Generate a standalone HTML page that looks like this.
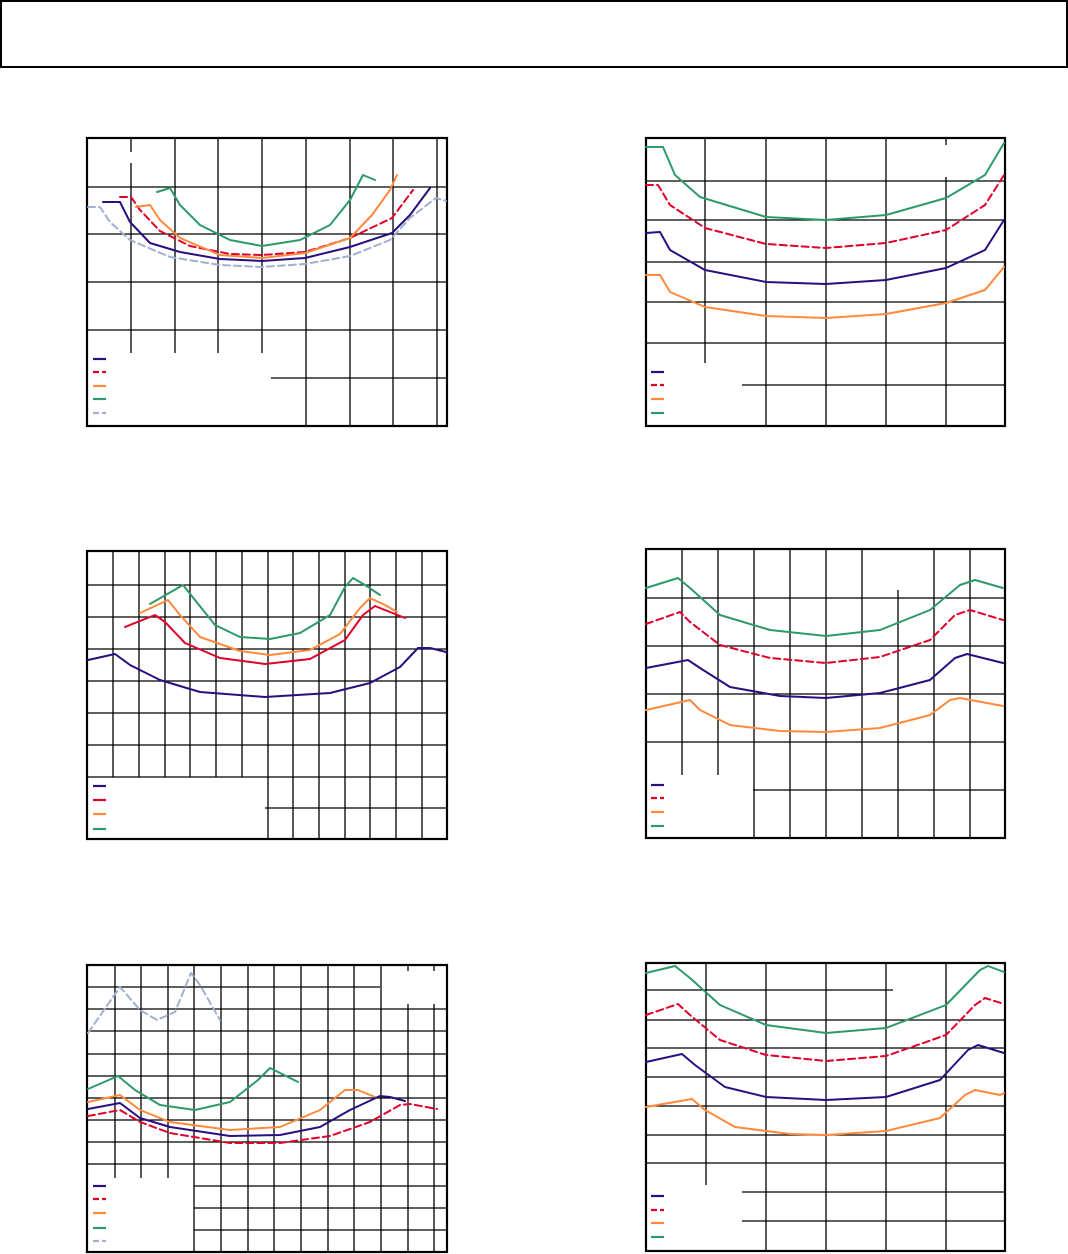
<!DOCTYPE html>
<html><head><meta charset="utf-8"><style>
html,body{margin:0;padding:0;background:#fff;}
svg{display:block;}
</style></head><body>
<svg width="1068" height="1254" viewBox="0 0 1068 1254" xmlns="http://www.w3.org/2000/svg">
<rect x="1" y="1" width="1066" height="66" fill="none" stroke="#000" stroke-width="2"/>
<g stroke="#000" stroke-width="1.3" fill="none">
<!-- chart1 -->
<line x1="87" y1="187" x2="447" y2="187"/><line x1="87" y1="234" x2="447" y2="234"/><line x1="87" y1="282" x2="447" y2="282"/><line x1="87" y1="330" x2="447" y2="330"/><line x1="271" y1="378" x2="447" y2="378"/>
<line x1="131" y1="163" x2="131" y2="353"/><line x1="131" y1="138" x2="131" y2="152"/><line x1="175" y1="138" x2="175" y2="353"/><line x1="218" y1="138" x2="218" y2="353"/><line x1="262" y1="138" x2="262" y2="353"/>
<line x1="306" y1="138" x2="306" y2="426"/><line x1="350" y1="138" x2="350" y2="426"/><line x1="393" y1="138" x2="393" y2="426"/><line x1="437" y1="138" x2="437" y2="426"/>
<!-- chart2 -->
<line x1="646" y1="181" x2="1005" y2="181"/><line x1="646" y1="220" x2="1005" y2="220"/><line x1="646" y1="262" x2="1005" y2="262"/><line x1="646" y1="302" x2="1005" y2="302"/><line x1="646" y1="343" x2="1005" y2="343"/><line x1="742" y1="385" x2="1005" y2="385"/>
<line x1="705" y1="138" x2="705" y2="363"/><line x1="766" y1="138" x2="766" y2="426"/><line x1="826" y1="138" x2="826" y2="426"/><line x1="886" y1="138" x2="886" y2="426"/><line x1="946" y1="177" x2="946" y2="426"/><line x1="946" y1="138" x2="946" y2="145"/>
<!-- chart3 -->
<line x1="87" y1="585" x2="447" y2="585"/><line x1="87" y1="617" x2="447" y2="617"/><line x1="87" y1="649" x2="447" y2="649"/><line x1="87" y1="681" x2="447" y2="681"/><line x1="87" y1="713" x2="447" y2="713"/><line x1="87" y1="745" x2="447" y2="745"/><line x1="87" y1="777" x2="447" y2="777"/><line x1="265" y1="808" x2="447" y2="808"/>
<line x1="113" y1="551" x2="113" y2="777"/><line x1="139" y1="551" x2="139" y2="777"/><line x1="165" y1="551" x2="165" y2="777"/><line x1="190" y1="551" x2="190" y2="777"/><line x1="216" y1="551" x2="216" y2="777"/><line x1="242" y1="551" x2="242" y2="777"/>
<line x1="268" y1="551" x2="268" y2="839"/><line x1="293" y1="551" x2="293" y2="839"/><line x1="319" y1="551" x2="319" y2="839"/><line x1="345" y1="551" x2="345" y2="839"/><line x1="370" y1="551" x2="370" y2="839"/><line x1="396" y1="551" x2="396" y2="839"/><line x1="422" y1="551" x2="422" y2="839"/>
<!-- chart4 -->
<line x1="646" y1="598" x2="1005" y2="598"/><line x1="646" y1="646" x2="1005" y2="646"/><line x1="646" y1="694" x2="1005" y2="694"/><line x1="646" y1="742" x2="1005" y2="742"/><line x1="753" y1="790" x2="1005" y2="790"/>
<line x1="682" y1="549" x2="682" y2="775"/><line x1="718" y1="549" x2="718" y2="775"/><line x1="754" y1="549" x2="754" y2="838"/><line x1="790" y1="549" x2="790" y2="838"/><line x1="826" y1="549" x2="826" y2="838"/><line x1="862" y1="549" x2="862" y2="838"/><line x1="898" y1="590" x2="898" y2="838"/><line x1="934" y1="549" x2="934" y2="838"/><line x1="970" y1="549" x2="970" y2="838"/>
<!-- chart5 -->
<line x1="87" y1="987" x2="380" y2="987"/><line x1="87" y1="1009" x2="447" y2="1009"/><line x1="87" y1="1031" x2="447" y2="1031"/><line x1="87" y1="1054" x2="447" y2="1054"/><line x1="87" y1="1076" x2="447" y2="1076"/><line x1="87" y1="1098" x2="447" y2="1098"/><line x1="87" y1="1120" x2="447" y2="1120"/><line x1="87" y1="1142" x2="447" y2="1142"/><line x1="87" y1="1164" x2="447" y2="1164"/><line x1="194" y1="1186" x2="447" y2="1186"/><line x1="194" y1="1208" x2="447" y2="1208"/><line x1="194" y1="1230" x2="447" y2="1230"/>
<line x1="115" y1="965" x2="115" y2="1178"/><line x1="141" y1="965" x2="141" y2="1178"/><line x1="168" y1="965" x2="168" y2="1178"/><line x1="194" y1="965" x2="194" y2="1252"/><line x1="221" y1="965" x2="221" y2="1252"/><line x1="248" y1="965" x2="248" y2="1252"/><line x1="274" y1="965" x2="274" y2="1252"/><line x1="301" y1="965" x2="301" y2="1252"/><line x1="328" y1="965" x2="328" y2="1252"/><line x1="354" y1="965" x2="354" y2="1252"/><line x1="381" y1="965" x2="381" y2="1252"/><line x1="408" y1="1004" x2="408" y2="1252"/><line x1="434" y1="1004" x2="434" y2="1252"/><line x1="408" y1="965" x2="408" y2="971"/><line x1="434" y1="965" x2="434" y2="971"/>
<!-- chart6 -->
<line x1="646" y1="990" x2="893" y2="990"/><line x1="646" y1="1020" x2="1005" y2="1020"/><line x1="646" y1="1048" x2="1005" y2="1048"/><line x1="646" y1="1077" x2="1005" y2="1077"/><line x1="646" y1="1106" x2="1005" y2="1106"/><line x1="646" y1="1135" x2="1005" y2="1135"/><line x1="646" y1="1163" x2="1005" y2="1163"/><line x1="742" y1="1192" x2="1005" y2="1192"/><line x1="742" y1="1221" x2="1005" y2="1221"/>
<line x1="706" y1="963" x2="706" y2="1185"/><line x1="766" y1="963" x2="766" y2="1251"/><line x1="826" y1="963" x2="826" y2="1251"/><line x1="886" y1="963" x2="886" y2="1251"/><line x1="946" y1="963" x2="946" y2="1251"/>
</g>
<g fill="none" stroke="#000" stroke-width="2.2">
<rect x="87" y="138" width="360" height="288"/>
<rect x="646" y="138" width="359" height="288"/>
<rect x="87" y="551" width="360" height="288"/>
<rect x="646" y="549" width="359" height="289"/>
<rect x="87" y="965" width="360" height="287"/>
<rect x="646" y="963" width="359" height="288"/>
</g>
<g fill="none" stroke-width="2" stroke-linejoin="round" stroke-linecap="round">
<!-- chart1 -->
<polyline stroke="#a0b0d0" stroke-dasharray="7,4" points="88,207 100,207 110,222 130,240 170,257 220,265 262,267 305,264 350,256 390,240 410,218 436,198 446,201"/>
<polyline stroke="#2a0f80" points="103,202 120,202 130,222 150,243 180,252 220,259 262,261 305,258 350,247 392,233 410,215 430,188"/>
<polyline stroke="#e0002a" stroke-dasharray="7,4" points="120,197 131,197 140,210 160,231 190,246 230,254 262,255 305,252 350,238 392,218 413,190"/>
<polyline stroke="#ff8a3d" points="136,207 150,205 160,220 180,238 220,255 262,258 305,253 350,238 372,215 390,190 397,175"/>
<polyline stroke="#2e9a6a" points="157,192 170,188 180,205 200,225 230,240 262,246 300,240 330,225 350,200 363,175 375,180"/>
<!-- chart2 -->
<polyline stroke="#2e9a6a" points="646,147 663,147 675,175 700,197 766,217 826,220 886,215 946,198 985,175 1004,143"/>
<polyline stroke="#e0002a" stroke-dasharray="7,4" points="646,185 658,185 670,205 705,228 766,244 826,248 886,243 946,230 985,205 1004,175"/>
<polyline stroke="#2a0f80" points="646,233 660,232 670,250 705,270 766,282 826,284 886,280 946,268 985,250 1004,220"/>
<polyline stroke="#ff8a3d" points="646,275 660,275 670,292 705,307 766,316 826,318 886,314 946,303 985,290 1004,267"/>
<!-- chart3 -->
<polyline stroke="#2a0f80" points="88,660 115,654 130,665 160,680 200,692 265,697 330,693 370,683 400,667 418,648 430,648 446,652"/>
<polyline stroke="#e0002a" points="125,627 155,615 165,622 185,643 220,658 265,664 310,659 345,640 363,615 375,606 390,612 405,618"/>
<polyline stroke="#ff8a3d" points="140,613 168,600 180,615 200,637 240,651 270,655 310,650 340,634 360,608 370,598 385,605 397,612"/>
<polyline stroke="#2e9a6a" points="150,604 183,585 195,600 215,625 240,637 270,639 300,633 330,615 345,587 353,578 365,585 380,595"/>
<!-- chart4 -->
<polyline stroke="#2e9a6a" points="646,588 678,578 690,588 720,615 770,630 826,636 880,630 930,610 960,585 975,580 1003,588"/>
<polyline stroke="#e0002a" stroke-dasharray="7,4" points="646,624 680,612 690,622 720,645 770,658 826,663 880,657 930,640 955,615 970,610 1003,620"/>
<polyline stroke="#2a0f80" points="646,668 688,660 700,668 730,687 780,696 826,698 880,693 930,680 955,658 967,654 1003,663"/>
<polyline stroke="#ff8a3d" points="646,710 690,700 700,710 730,725 780,731 826,732 880,728 930,715 950,700 960,698 1003,706"/>
<!-- chart5 -->
<polyline stroke="#a0b0d0" stroke-dasharray="7,4" points="88,1033 120,987 140,1010 157,1020 175,1012 191,973 200,985 220,1020"/>
<polyline stroke="#2e9a6a" points="88,1089 118,1076 135,1090 160,1105 195,1110 230,1102 258,1080 270,1068 290,1078 298,1082"/>
<polyline stroke="#ff8a3d" points="88,1102 120,1095 140,1110 170,1122 230,1130 280,1127 320,1110 345,1090 358,1090 375,1097"/>
<polyline stroke="#2a0f80" points="88,1109 120,1103 140,1118 170,1127 230,1136 280,1135 320,1127 350,1110 380,1096 390,1097 405,1101"/>
<polyline stroke="#e0002a" stroke-dasharray="7,4" points="88,1116 120,1110 140,1122 170,1133 230,1143 280,1143 330,1136 370,1122 400,1105 410,1104 437,1109"/>
<!-- chart6 -->
<polyline stroke="#2e9a6a" points="646,973 675,966 690,978 720,1005 766,1025 826,1033 886,1028 946,1005 980,970 988,966 1004,972"/>
<polyline stroke="#e0002a" stroke-dasharray="7,4" points="646,1015 678,1004 690,1015 720,1040 766,1055 826,1061 886,1056 946,1035 975,1005 985,998 1004,1004"/>
<polyline stroke="#2a0f80" points="646,1062 682,1054 695,1065 725,1087 766,1097 826,1100 886,1097 940,1080 968,1050 978,1045 1004,1053"/>
<polyline stroke="#ff8a3d" points="646,1107 692,1099 705,1110 735,1127 790,1134 826,1135 886,1131 940,1118 965,1095 975,1090 1000,1095 1004,1093"/>
</g>
<g stroke-width="2.2">
<line x1="93" y1="359" x2="106" y2="359" stroke="#2a0f80"/><line x1="93" y1="372" x2="106" y2="372" stroke="#e0002a" stroke-dasharray="6,3"/><line x1="93" y1="386" x2="106" y2="386" stroke="#ff8a3d"/><line x1="93" y1="399" x2="106" y2="399" stroke="#2e9a6a"/><line x1="93" y1="413" x2="106" y2="413" stroke="#a0b0d0" stroke-dasharray="6,3"/>
<line x1="651" y1="372" x2="664" y2="372" stroke="#2a0f80"/><line x1="651" y1="385" x2="664" y2="385" stroke="#e0002a" stroke-dasharray="6,3"/><line x1="651" y1="399" x2="664" y2="399" stroke="#ff8a3d"/><line x1="651" y1="413" x2="664" y2="413" stroke="#2e9a6a"/>
<line x1="93" y1="786" x2="106" y2="786" stroke="#2a0f80"/><line x1="93" y1="800" x2="106" y2="800" stroke="#e0002a"/><line x1="93" y1="814" x2="106" y2="814" stroke="#ff8a3d"/><line x1="93" y1="829" x2="106" y2="829" stroke="#2e9a6a"/>
<line x1="651" y1="785" x2="664" y2="785" stroke="#2a0f80"/><line x1="651" y1="798" x2="664" y2="798" stroke="#e0002a" stroke-dasharray="6,3"/><line x1="651" y1="812" x2="664" y2="812" stroke="#ff8a3d"/><line x1="651" y1="826" x2="664" y2="826" stroke="#2e9a6a"/>
<line x1="93" y1="1186" x2="106" y2="1186" stroke="#2a0f80"/><line x1="93" y1="1199" x2="106" y2="1199" stroke="#e0002a" stroke-dasharray="6,3"/><line x1="93" y1="1213" x2="106" y2="1213" stroke="#ff8a3d"/><line x1="93" y1="1228" x2="106" y2="1228" stroke="#2e9a6a"/><line x1="93" y1="1241" x2="106" y2="1241" stroke="#a0b0d0" stroke-dasharray="6,3"/>
<line x1="651" y1="1196" x2="664" y2="1196" stroke="#2a0f80"/><line x1="651" y1="1210" x2="664" y2="1210" stroke="#e0002a" stroke-dasharray="6,3"/><line x1="651" y1="1223" x2="664" y2="1223" stroke="#ff8a3d"/><line x1="651" y1="1237" x2="664" y2="1237" stroke="#2e9a6a"/>
</g>
</svg>
</body></html>
